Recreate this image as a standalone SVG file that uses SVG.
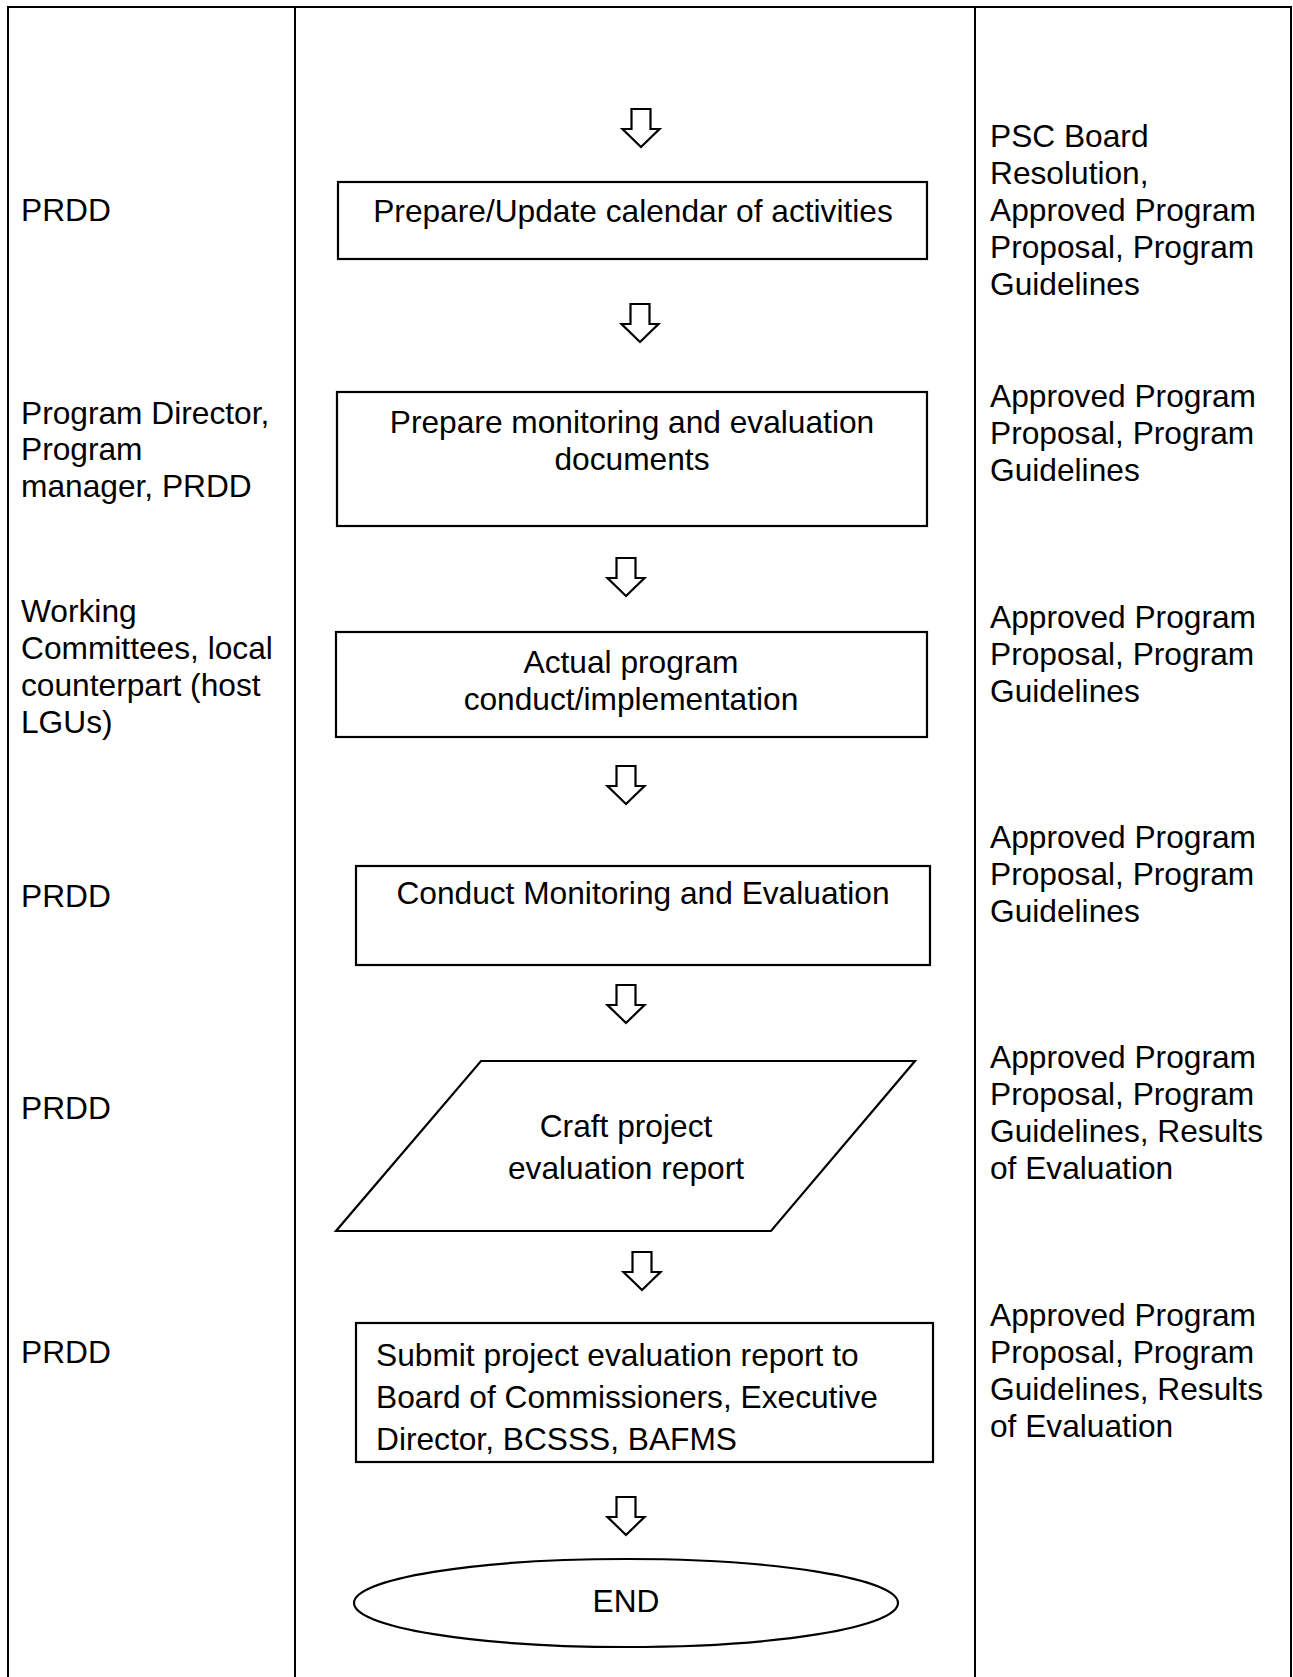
<svg xmlns="http://www.w3.org/2000/svg" xmlns:xlink="http://www.w3.org/1999/xlink" width="1293" height="1677" viewBox="0 0 1293 1677">
  <style>
    text { font-family: "Liberation Sans", Arial, sans-serif; font-size: 31.7px; fill: #000; }
    .c { text-anchor: middle; }
    .frame { stroke: #000; stroke-width: 2; fill: none; }
    .shape { stroke: #000; stroke-width: 2.2; fill: #fff; }
    .arrow { stroke: #000; stroke-width: 2.2; fill: #fff; stroke-linejoin: miter; }
  </style>
  <defs>
    <!-- hollow block arrow pointing down; origin at the top centre of the shaft -->
    <path id="blockArrow" class="arrow" d="M -9.5 0 H 9.5 V 20 H 18.5 L 0 38 L -18.5 20 H -9.5 Z"/>
  </defs>

  <rect width="1293" height="1677" fill="#fff"/>

  <!-- table frame: three columns -->
  <g id="table">
    <path class="frame" d="M 8 1677 V 7 H 1291 V 1677"/>
    <line class="frame" x1="295" y1="7" x2="295" y2="1677"/>
    <line class="frame" x1="975" y1="7" x2="975" y2="1677"/>
  </g>

  <!-- responsible units -->
  <g id="responsible">
    <text x="21" y="221">PRDD</text>
    <text x="21" y="424">Program Director,</text>
    <text x="21" y="460">Program</text>
    <text x="21" y="497">manager, PRDD</text>
    <text x="21" y="622">Working</text>
    <text x="21" y="659">Committees, local</text>
    <text x="21" y="696">counterpart (host</text>
    <text x="21" y="733">LGUs)</text>
    <text x="21" y="907">PRDD</text>
    <text x="21" y="1119">PRDD</text>
    <text x="21" y="1363">PRDD</text>
  </g>

  <!-- reference documents -->
  <g id="documents">
    <text x="990" y="147">PSC Board</text>
    <text x="990" y="184">Resolution,</text>
    <text x="990" y="221">Approved Program</text>
    <text x="990" y="258">Proposal, Program</text>
    <text x="990" y="295">Guidelines</text>

    <text x="990" y="407">Approved Program</text>
    <text x="990" y="444">Proposal, Program</text>
    <text x="990" y="481">Guidelines</text>

    <text x="990" y="628">Approved Program</text>
    <text x="990" y="665">Proposal, Program</text>
    <text x="990" y="702">Guidelines</text>

    <text x="990" y="848">Approved Program</text>
    <text x="990" y="885">Proposal, Program</text>
    <text x="990" y="922">Guidelines</text>

    <text x="990" y="1068">Approved Program</text>
    <text x="990" y="1105">Proposal, Program</text>
    <text x="990" y="1142">Guidelines, Results</text>
    <text x="990" y="1179">of Evaluation</text>

    <text x="990" y="1326">Approved Program</text>
    <text x="990" y="1363">Proposal, Program</text>
    <text x="990" y="1400">Guidelines, Results</text>
    <text x="990" y="1437">of Evaluation</text>
  </g>

  <!-- flow connectors -->
  <g id="connectors">
    <use xlink:href="#blockArrow" x="641" y="109"/>
    <use xlink:href="#blockArrow" x="640" y="304"/>
    <use xlink:href="#blockArrow" x="626" y="558"/>
    <use xlink:href="#blockArrow" x="626" y="766"/>
    <use xlink:href="#blockArrow" x="626" y="985"/>
    <use xlink:href="#blockArrow" x="642" y="1252"/>
    <use xlink:href="#blockArrow" x="626" y="1497"/>
  </g>

  <!-- process steps -->
  <g id="step-calendar">
    <rect class="shape" x="338" y="182" width="589" height="77"/>
    <text class="c" x="633" y="222">Prepare/Update calendar of activities</text>
  </g>

  <g id="step-me-documents">
    <rect class="shape" x="337" y="392" width="590" height="134"/>
    <text class="c" x="632" y="433">Prepare monitoring and evaluation</text>
    <text class="c" x="632" y="470">documents</text>
  </g>

  <g id="step-implementation">
    <rect class="shape" x="336" y="632" width="591" height="105"/>
    <text class="c" x="631" y="673">Actual program</text>
    <text class="c" x="631" y="710">conduct/implementation</text>
  </g>

  <g id="step-conduct-me">
    <rect class="shape" x="356" y="866" width="574" height="99"/>
    <text class="c" x="643" y="904">Conduct Monitoring and Evaluation</text>
  </g>

  <g id="step-craft-report">
    <polygon class="shape" points="481,1061 915,1061 771,1231 336,1231"/>
    <text class="c" x="626" y="1137">Craft project</text>
    <text class="c" x="626" y="1179">evaluation report</text>
  </g>

  <g id="step-submit-report">
    <rect class="shape" x="356" y="1323" width="577" height="139"/>
    <text x="376" y="1366">Submit project evaluation report to</text>
    <text x="376" y="1408">Board of Commissioners, Executive</text>
    <text x="376" y="1450">Director, BCSSS, BAFMS</text>
  </g>

  <g id="end">
    <ellipse class="shape" cx="626" cy="1603" rx="272" ry="44"/>
    <text class="c" x="626" y="1612">END</text>
  </g>
</svg>
